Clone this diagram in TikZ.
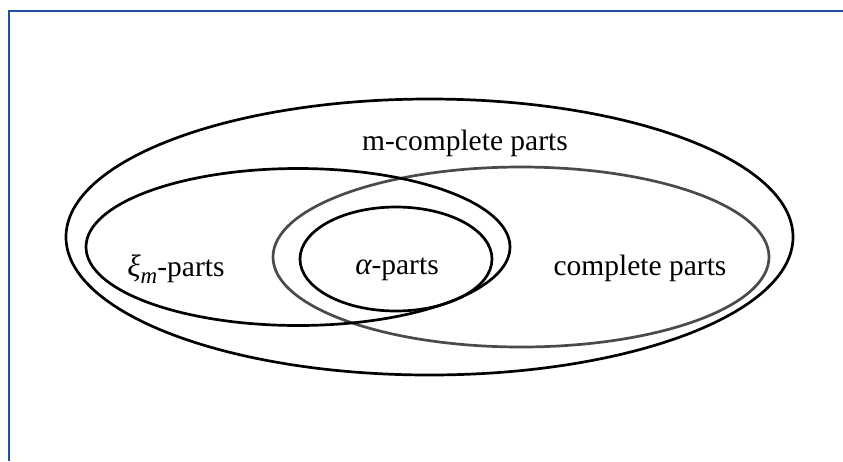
\documentclass[tikz,border=0pt]{standalone}
\usepackage{fontspec}
\setmainfont{Liberation Serif}
\definecolor{frameblue}{HTML}{1F4EA3}
\definecolor{setgray}{HTML}{4A4A4A}
\tikzset{
  setline/.style={line width=2.7pt, draw=black},
  grayline/.style={line width=2.7pt, draw=setgray},
  lbl/.style={font=\fontsize{29.5}{34}\selectfont, inner sep=0pt},
}
\newcommand{\grk}[1]{{\itshape\fontsize{31}{34}\selectfont #1}}
\begin{document}
\begin{tikzpicture}[x=1pt,y=-1pt]
\useasboundingbox (0,0) rectangle (843,461);
% page frame
\draw[frameblue, line width=2pt] (843,10.5) -- (8.5,10.5) -- (8.5,461);
% ellipses
\draw[setline] (429.5,237) ellipse [x radius=363.5, y radius=138];
\draw[grayline] (521,257) ellipse [x radius=248, y radius=90];
\draw[setline] (298,247) ellipse [x radius=212, y radius=78.5];
\draw[setline] (396,259) ellipse [x radius=96, y radius=52];
% labels
\node[lbl] (mc) at (465,143) {m-complete parts};
\node[lbl] (xi) at (176,269) {\grk{ξ}\raisebox{-0.22em}{\itshape\fontsize{23}{26}\selectfont m}-parts};
\node[lbl] (al) at (397,269) {\grk{α}-parts};
\node[lbl] (cp) at (640,268) {complete parts};
\end{tikzpicture}
\end{document}
